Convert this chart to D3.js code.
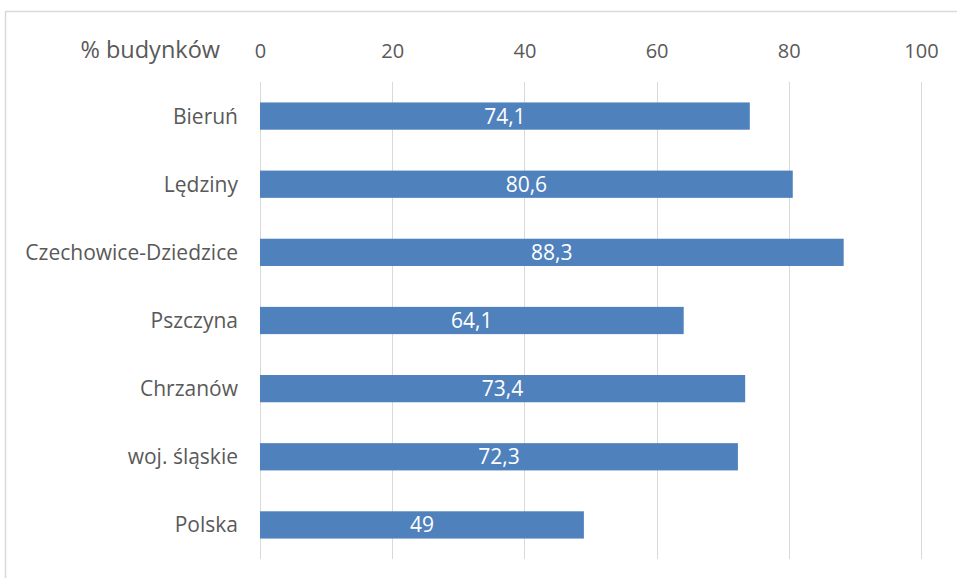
<!DOCTYPE html>
<html><head><meta charset="utf-8">
<script src="https://cdn.jsdelivr.net/npm/d3@7"></script>
<style>body{margin:0;background:#fff}svg{display:block}text{font-family:"Open Sans","Noto Sans",sans-serif}</style>
</head><body><svg id="c" width="957" height="578"></svg>
<script>
const categories = ["Bieruń","Lędziny","Czechowice-Dziedzice","Pszczyna","Chrzanów ","woj. śląskie","Polska"];
const values = [74.1,80.6,88.3,64.1,73.4,72.3,49];
const valueLabels = ["74,1","80,6","88,3","64,1","73,4","72,3","49"];
const tickValues = [0,20,40,60,80,100];
const axisTitle = "% budynków";

const svg = d3.select("#c");
svg.append("rect").attr("x",5.5).attr("y",11.5).attr("width",1000).attr("height",1000)
  .attr("fill","none").attr("stroke","#d9d9d9").attr("stroke-width",1.5);

const x = d3.scaleLinear().domain([0,100]).range([260,921]);
const y = d3.scaleBand().domain(categories).range([82,559]).paddingInner(0.6).paddingOuter(0.3);

const g = svg.append("g");
g.selectAll("line.grid").data(tickValues).join("line").attr("class","grid")
  .attr("x1",d=>Math.round(x(d))+0.5).attr("x2",d=>Math.round(x(d))+0.5)
  .attr("y1",82).attr("y2",559).attr("stroke","#d9d9d9").attr("stroke-width",1);

const axis = d3.axisTop(x).tickValues(tickValues).tickSize(0).tickPadding(0).tickFormat(d=>String(d));
const ag = svg.append("g").attr("transform","translate(0,58)").call(axis);
ag.select(".domain").remove();
ag.selectAll("text").attr("fill","#595959").style("font-size","20px").style("font-family",'"Open Sans",sans-serif');

svg.append("text").attr("x",220).attr("y",58).attr("text-anchor","end")
  .attr("fill","#595959").style("font-size","23.5px").text(axisTitle);

g.selectAll("rect.bar").data(values).join("rect").attr("class","bar")
  .attr("x",x(0)).attr("y",(d,i)=>y(categories[i]))
  .attr("width",d=>x(d)-x(0)).attr("height",y.bandwidth()).attr("fill","#4f81bd");

g.selectAll("text.val").data(values).join("text").attr("class","val")
  .attr("x",d=>x(d/2)).attr("y",(d,i)=>y(categories[i])+y.bandwidth()/2)
  .attr("dy","0.36em").attr("text-anchor","middle").attr("fill","#fff").style("font-size","21px")
  .text((d,i)=>valueLabels[i]);

g.selectAll("text.cat").data(categories).join("text").attr("class","cat")
  .attr("x",238).attr("y",d=>y(d)+y.bandwidth()/2).attr("dy","0.36em")
  .attr("text-anchor","end").attr("fill","#595959").style("font-size","21px").text(d=>d);
</script></body></html>
